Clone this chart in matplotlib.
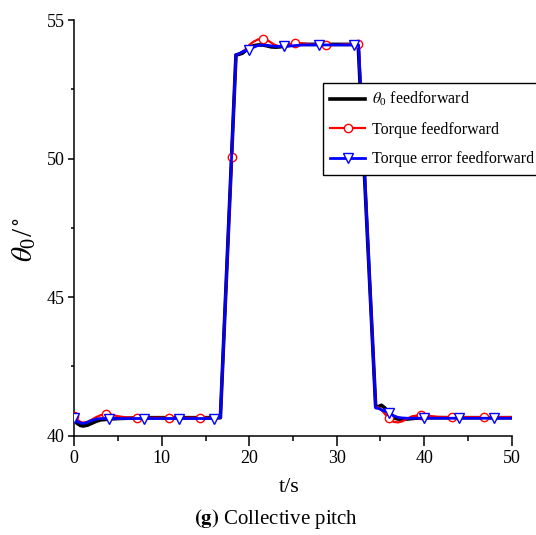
import numpy as np
import matplotlib
matplotlib.use("Agg")
import matplotlib.pyplot as plt
from matplotlib.ticker import MultipleLocator

plt.rcParams['font.family'] = ['Liberation Serif', 'DejaVu Serif']
plt.rcParams['mathtext.fontset'] = 'stix'

# ---- data ----
t_black = [0, 0.3, 0.7, 1.0, 1.5, 2.0, 2.5, 3.0, 4.0, 5.0, 6.0, 8.0, 16.7, 18.48,
           18.8, 19.2, 19.6, 20.0, 20.5, 21.0, 21.5, 22.0, 22.5, 23.0, 23.5, 24.0,
           25.0, 26.0, 28.0, 32.45, 34.45, 34.8, 35.1, 35.5, 36.0, 36.5, 37.0, 38.0,
           39.0, 40.0, 50.0]
v_black = [40.62, 40.45, 40.37, 40.35, 40.38, 40.45, 40.52, 40.57, 40.6, 40.62, 40.63, 40.65, 40.65, 53.74,
           53.76, 53.8, 53.9, 54.0, 54.07, 54.1, 54.1, 54.07, 54.03, 54.02, 54.03, 54.06,
           54.1, 54.12, 54.12, 54.12, 41.05, 41.05, 41.1, 41.0, 40.8, 40.65, 40.6, 40.6,
           40.63, 40.65, 40.65]

t_red = [0, 0.3, 0.7, 1.0, 1.5, 2.0, 2.5, 3.0, 3.6, 4.2, 5.0, 6.0, 7.2, 10.8, 14.4, 16.7,
         18.0, 18.48, 18.8, 19.2, 19.6, 20.0, 20.5, 21.0, 21.6, 22.2, 22.8, 23.4, 24.0,
         24.6, 25.2, 26.0, 27.0, 28.8, 30.0, 32.4, 32.5, 34.45, 34.8, 35.2, 35.6, 36.0,
         36.5, 37.0, 37.5, 38.0, 38.6, 39.6, 40.5, 41.5, 43.2, 46.8, 50.0]
v_red = [40.7, 40.58, 40.5, 40.47, 40.5, 40.58, 40.67, 40.74, 40.78, 40.76, 40.7, 40.66, 40.65, 40.65, 40.65, 40.65,
         50.05, 53.74, 53.78, 53.85, 53.95, 54.1, 54.22, 54.3, 54.32, 54.25, 54.12, 54.05, 54.07,
         54.13, 54.17, 54.16, 54.12, 54.1, 54.1, 54.15, 54.15, 41.05, 41.02, 40.9, 40.75, 40.65,
         40.5, 40.48, 40.52, 40.6, 40.7, 40.75, 40.72, 40.68, 40.67, 40.67, 40.67]
mk_red = [0, 3.6, 7.2, 10.8, 14.4, 18.0, 21.6, 25.2, 28.8, 32.4, 36.0, 39.6, 43.2, 46.8]

t_blue = [0, 0.3, 0.8, 1.2, 1.6, 2.0, 2.5, 3.0, 4.0, 5.0, 8.0, 12.0, 16.0, 16.7, 18.48,
          18.8, 19.2, 20.0, 20.5, 21.0, 21.5, 22.0, 23.0, 24.0, 25.0, 26.0, 28.0, 32.0,
          32.5, 34.45, 34.8, 35.2, 36.0, 36.5, 37.0, 37.5, 38.0, 40.0, 44.0, 48.0, 50.0]
v_blue = [40.65, 40.52, 40.45, 40.45, 40.5, 40.55, 40.6, 40.62, 40.62, 40.62, 40.62, 40.62, 40.62, 40.65, 53.74,
          53.78, 53.85, 53.93, 54.02, 54.08, 54.1, 54.08, 54.05, 54.05, 54.07, 54.1, 54.1, 54.1,
          54.1, 41.0, 40.98, 40.92, 40.83, 40.72, 40.66, 40.64, 40.63, 40.63, 40.63, 40.63, 40.63]
mk_blue = [0, 4, 8, 12, 16, 20, 24, 28, 32, 36, 40, 44, 48]

labels = [r'$\theta_{\mathregular{0}}$ feedforward', 'Torque feedforward', 'Torque error feedforward']
xticks = [0, 10, 20, 30, 40, 50]
yticks = [40, 45, 50, 55]

# ---- figure ----
fig = plt.figure(figsize=(5.36, 5.35), dpi=100)
ax = fig.add_axes([74.3/536, 1 - 435.7/535, 437.4/536, 415.7/535])

ax.plot(t_black, v_black, color='black', lw=2.6, label=labels[0], zorder=3)
ti_r = [i for i, tt in enumerate(t_red) if tt in mk_red]
ax.plot(t_red, v_red, color='#ff0000', lw=1.6, marker='o', markevery=ti_r,
        ms=6, mfc='white', mec='#ff0000', mew=1.0, label=labels[1], zorder=4)
ti_b = [i for i, tt in enumerate(t_blue) if tt in mk_blue]
ax.plot(t_blue, v_blue, color='#0000ff', lw=2.0, marker='v', markevery=ti_b,
        ms=7, mfc='white', mec='#0000ff', mew=1.0, label=labels[2], zorder=5)

ax.set_xlim(0, 50)
ax.set_ylim(40, 55)
ax.set_xticks(xticks)
ax.set_yticks(yticks)
ax.xaxis.set_minor_locator(MultipleLocator(5))
ax.yaxis.set_minor_locator(MultipleLocator(2.5))
for s in ['top', 'right']:
    ax.spines[s].set_visible(False)
for s in ['left', 'bottom']:
    ax.spines[s].set_linewidth(1.1)
ax.tick_params(axis='x', which='major', direction='out', length=7, width=1.1, pad=3, labelsize=13)
ax.tick_params(axis='x', which='minor', direction='out', length=3.5, width=1.1)
ax.tick_params(axis='y', which='major', direction='out', length=4, width=1.1, pad=3, labelsize=13)
ax.tick_params(axis='y', which='minor', direction='out', length=2, width=1.1)

leg = ax.legend(loc='upper left', bbox_to_anchor=(323/536, 1 - 83/535),
                bbox_transform=fig.transFigure, fontsize=11.5, frameon=True,
                fancybox=False, edgecolor='black', framealpha=1, borderpad=0.45,
                handlelength=2.2, handletextpad=0.4, labelspacing=0.85, borderaxespad=0)
leg.get_frame().set_linewidth(1.0)
leg.set_zorder(10)

fig.text(289/536, 1 - 487/535, 't/s', ha='center', va='center', fontsize=16)
fig.text(24/536, 1 - 239/535, r'$\theta_{\mathregular{0}}$/$^\circ$', ha='center', va='center',
         rotation=90, fontsize=21)
fig.text(276/536, 1 - 519/535, r'$\mathbf{(g)}$ Collective pitch', ha='center',
         va='center', fontsize=15)

fig.savefig('out.png', dpi=100)
